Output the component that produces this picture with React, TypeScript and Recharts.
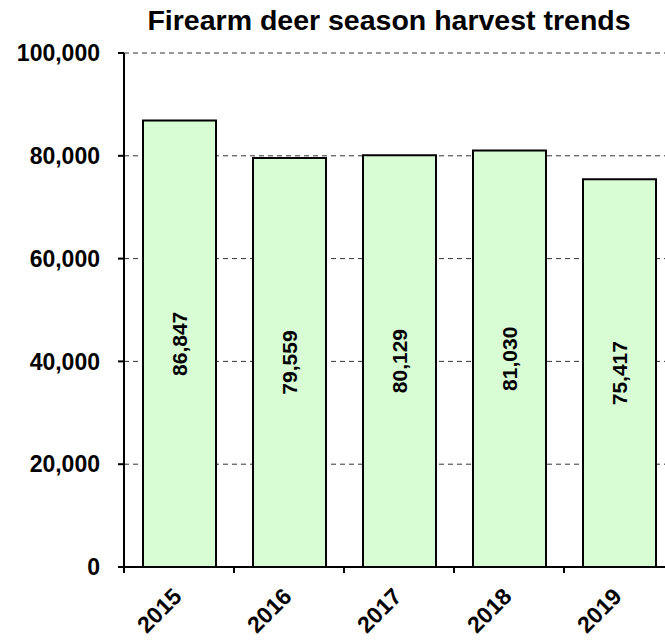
import { Bar, BarChart, CartesianGrid, LabelList, XAxis, YAxis } from "recharts";

const years = ["2015", "2016", "2017", "2018", "2019"];
const harvest = [86847, 79559, 80129, 81030, 75417];
const yTicks = [0, 20000, 40000, 60000, 80000, 100000];

const chartData = years.map((year, i) => ({ year, harvest: harvest[i] }));

const FONT = '"Liberation Sans", Arial, Helvetica, sans-serif';
const fmt = (v: number) => Number(v).toLocaleString("en-US");

// year label rotated 45deg, plus a tick mark on the left category boundary
function YearTick(props: any) {
  const { x, y, payload } = props;
  const half = Number(payload?.offset ?? 0);
  const bx = x - half;
  return (
    <g>
      <line x1={bx} y1={y} x2={bx} y2={y + 6} stroke="#000" strokeWidth={2} />
      <line x1={bx + 2 * half} y1={y} x2={bx + 2 * half} y2={y + 6} stroke="#000" strokeWidth={2} />
      <text
        x={x + 4}
        y={y + 31}
        transform={`rotate(-45 ${x + 4} ${y + 31})`}
        textAnchor="end"
        fontFamily={FONT}
        fontWeight="bold"
        fontSize={23}
        fill="#000"
      >
        {payload.value}
      </text>
    </g>
  );
}

function BarValue(props: any) {
  const { x, y, width, height, value } = props;
  const cx = Number(x) + Number(width) / 2;
  const cy = Number(y) + Number(height) / 2;
  return (
    <text
      x={cx}
      y={cy}
      transform={`rotate(-90 ${cx} ${cy})`}
      textAnchor="middle"
      dominantBaseline="central"
      fontFamily={FONT}
      fontWeight="bold"
      fontSize={21}
      fill="#000"
    >
      {fmt(value)}
    </text>
  );
}

export default function App() {
  return (
    <div
      style={{
        position: "absolute",
        left: 0,
        top: 0,
        width: 665,
        height: 641,
        overflow: "hidden",
        background: "#fff",
        fontFamily: FONT,
      }}
    >
      <div
        style={{
          position: "absolute",
          left: 0,
          top: 6,
          width: 778,
          textAlign: "center",
          fontSize: 28.5,
          lineHeight: 1,
          fontWeight: "bold",
          color: "#000",
        }}
      >
        Firearm deer season harvest trends
      </div>
      <BarChart
        width={700}
        height={641}
        data={chartData}
        margin={{ top: 53, right: 26, left: 0, bottom: 0 }}
      >
        <CartesianGrid vertical={false} stroke="#333" strokeDasharray="5 4" />
        <XAxis
          dataKey="year"
          height={74}
          axisLine={{ stroke: "#000", strokeWidth: 2 }}
          tickLine={false}
          tickSize={0}
          tickMargin={0}
          tick={<YearTick />}
          interval={0}
        />
        <YAxis
          width={124}
          domain={[0, 100000]}
          ticks={yTicks}
          tickFormatter={fmt}
          axisLine={{ stroke: "#000", strokeWidth: 2 }}
          tickLine={{ stroke: "#000", strokeWidth: 2 }}
          tickSize={6}
          tickMargin={18}
          tick={{ fill: "#000", fontSize: 23, fontWeight: "bold", fontFamily: FONT }}
        />
        <Bar
          dataKey="harvest"
          fill="#d8fcd4"
          stroke="#000"
          strokeWidth={2}
          barSize={73}
          isAnimationActive={false}
        >
          <LabelList dataKey="harvest" content={<BarValue />} />
        </Bar>
      </BarChart>
    </div>
  );
}
